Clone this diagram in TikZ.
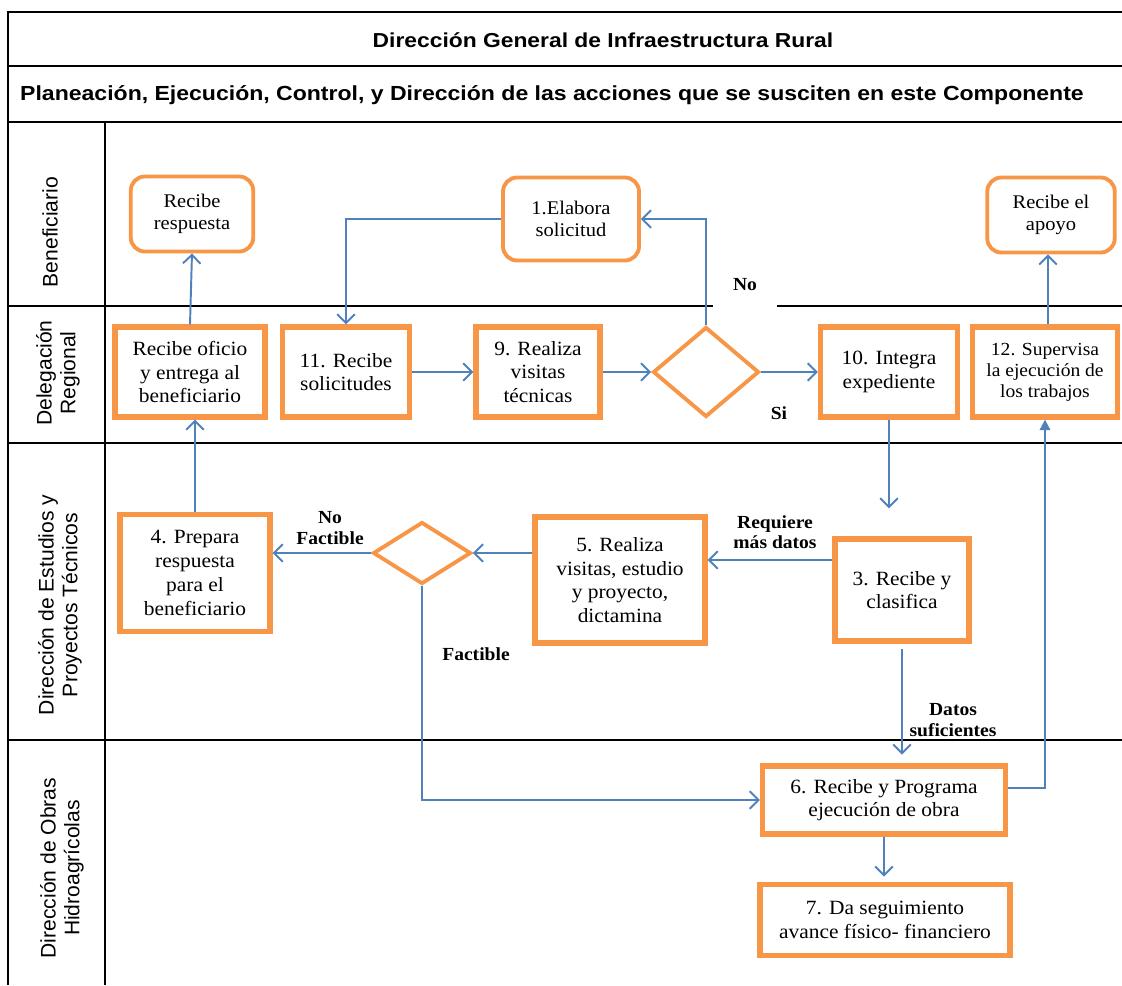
\documentclass[tikz,border=0pt]{standalone}
\usepackage{fontspec}
\setmainfont[FakeStretch=1.06]{Liberation Serif}
\newfontfamily\lanefont{Liberation Sans}
\newfontfamily\headfont[FakeStretch=1.13]{Liberation Sans}
\usetikzlibrary{shapes.geometric,arrows.meta}
\definecolor{boxorange}{HTML}{F79646}
\definecolor{flowblue}{HTML}{4F81BD}

\begin{document}
\begin{tikzpicture}[x=0.02cm,y=-0.02cm,
    lane/.style={draw=black,line width=1pt},
    lanelbl/.style={rotate=90,align=center,font=\lanefont\fontsize{12}{13.5}\selectfont},
    actbox/.style={draw=boxorange,line width=3pt,fill=white,align=center,inner sep=1pt,
      font=\fontsize{11.5}{13.5}\selectfont},
    endbox/.style={draw=boxorange,line width=2.2pt,rounded corners=8pt,fill=white,align=center,
      inner sep=1pt,font=\fontsize{11}{12.5}\selectfont},
    choice/.style={diamond,draw=boxorange,line width=2.2pt,fill=white,inner sep=0pt},
    flow/.style={draw=flowblue,line width=1.1pt,-{Straight Barb[length=5pt,width=10pt]}},
    flowfill/.style={draw=flowblue,line width=1.1pt,-{Triangle[length=6pt,width=6pt]}},
    lbl/.style={align=center,font=\bfseries\fontsize{10.5}{11.5}\selectfont}]
    \useasboundingbox (0,0) rectangle (1122,985);

    % frame and lanes
    \draw[lane] (8,985) -- (8,12) -- (1122,12);
    \draw[lane] (8,66) -- (1122,66);
    \draw[lane] (8,122) -- (1122,122);
    \draw[lane] (105,122) -- (105,985);
    \draw[lane] (8,306) -- (713,306) (777,306) -- (1122,306);
    \draw[lane] (8,443) -- (1122,443);
    \draw[lane] (8,740) -- (1122,740);

    \node[font=\headfont\bfseries\fontsize{11.5}{14}\selectfont] (titulo) at (603,40)
      {Dirección General de Infraestructura Rural};
    \node[font=\headfont\bfseries\fontsize{11.6}{14}\selectfont] (subtitulo) at (552,95)
      {Planeación, Ejecución, Control, y Dirección de las acciones que se susciten en este Componente};

    \node[lanelbl] (l1) at (50,232) {Beneficiario};
    \node[lanelbl] (l2) at (58,373) {Delegación\\Regional};
    \node[lanelbl] (l3) at (60,605) {Dirección de Estudios y\\Proyectos Técnicos};
    \node[lanelbl] (l4) at (62,868) {Dirección de Obras\\Hidroagrícolas};

    % Beneficiario
    \node[endbox,minimum width=2.45cm,minimum height=1.5cm] (resp) at (192,214) {Recibe\\respuesta};
    \node[endbox,minimum width=2.72cm,minimum height=1.66cm] (elab) at (571,219) {1.Elabora\\solicitud};
    \node[endbox,minimum width=2.55cm,minimum height=1.5cm] (apoyo) at (1051,215) {Recibe el\\apoyo};

    % Delegacion Regional
    \node[actbox,minimum width=3.0cm,minimum height=1.8cm] (ofic) at (190,372) {Recibe oficio\\y entrega al\\beneficiario};
    \node[actbox,minimum width=2.54cm,minimum height=1.8cm] (r11) at (346,372) {11. Recibe\\solicitudes};
    \node[actbox,minimum width=2.48cm,minimum height=1.8cm] (r9) at (538,372) {9. Realiza\\visitas\\técnicas};
    \node[choice,minimum width=2.12cm,minimum height=1.8cm] (d1) at (706,372) {};
    \node[actbox,minimum width=2.74cm,minimum height=1.8cm] (r10) at (889,372) {10. Integra\\expediente};
    \node[actbox,minimum width=2.9cm,minimum height=1.8cm,font=\fontsize{10.5}{12}\selectfont] (r12) at (1045,372)
      {12. Supervisa\\la ejecución de\\los trabajos};

    % Estudios y Proyectos
    \node[actbox,minimum width=3.0cm,minimum height=2.34cm] (prep) at (195,573) {4. Prepara\\respuesta\\para el\\beneficiario};
    \node[choice,minimum width=1.96cm,minimum height=1.24cm] (d2) at (422,553) {};
    \node[actbox,minimum width=3.4cm,minimum height=2.52cm] (r5) at (620,580) {5. Realiza\\visitas, estudio\\y proyecto,\\dictamina};
    \node[actbox,minimum width=2.68cm,minimum height=2.04cm] (r3) at (902,590) {3. Recibe y\\clasifica};

    % Obras Hidroagricolas
    \node[actbox,minimum width=4.86cm,minimum height=1.36cm] (r6) at (884,800) {6. Recibe y Programa\\ejecución de obra};
    \node[actbox,minimum width=5.0cm,minimum height=1.42cm] (r7) at (885,920) {7. Da seguimiento\\avance físico- financiero};

    % connectors
    \draw[flow] (ofic.north) -- (resp.south);
    \draw[flow] (prep.north) -- (prep.north |- ofic.south);
    \draw[flow] (elab.west) -| (r11.north);
    \draw[flow] (r11) -- (r9);
    \draw[flow] (r9) -- (d1);
    \draw[flow] (d1.north) |- (elab.east);
    \draw[flow] (d1) -- (r10);
    \draw[flow,shorten >=16pt] (r10.south) -- (r10.south |- r3.north);
    \draw[flow] (r3.west |- 0,560) -- (r5.east |- 0,560);
    \draw[flow] (r5.west |- d2) -- (d2.east);
    \draw[flow] (d2.west) -- (prep.east |- d2);
    \draw[flow] (d2.south) |- (r6.west);
    \draw[flow,shorten <=3pt,shorten >=5pt] (r3.south) -- (r3.south |- r6.north);
    \draw[flow,shorten >=3pt] (r6.south) -- (r6.south |- r7.north);
    \draw[flowfill] (r6.east |- 0,788) -| (r12.south);
    \draw[flow] (r12.north -| 1048,0) -- (apoyo.south -| 1048,0);

    % connector labels
    \node[lbl] (no) at (745,285) {No};
    \node[lbl] (si) at (779,413) {Si};
    \node[lbl] (masdatos) at (775,532) {Requiere\\más datos};
    \node[lbl] (nofact) at (330,528) {No\\Factible};
    \node[lbl] (fact) at (476,654) {Factible};
    \node[lbl] (datos) at (953,720) {Datos\\suficientes};
\end{tikzpicture}
\end{document}
